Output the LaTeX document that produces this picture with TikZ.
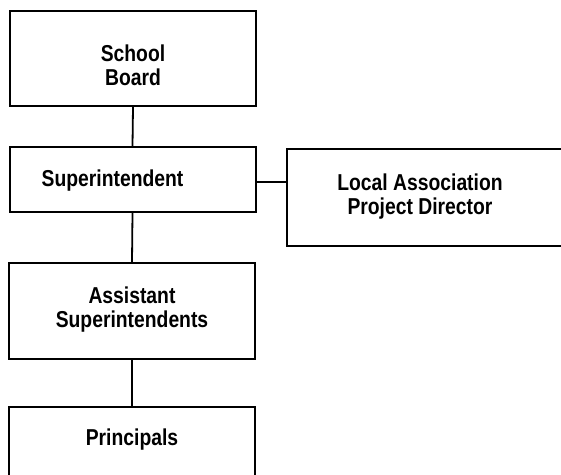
\documentclass[tikz,border=0pt]{standalone}
\usepackage{fontspec}
\setmainfont{Liberation Sans}[BoldFeatures={FakeStretch=0.84}]
\begin{document}
\begin{tikzpicture}[x=1pt,y=1pt,
  orgbox/.style={draw=black, line width=2pt, rectangle, inner sep=0pt,
    minimum width=246pt},
  label text/.style={align=center, inner sep=0pt,
    font=\fontsize{23}{24}\selectfont\bfseries},
  link/.style={draw=black, line width=1.8pt}]
  \useasboundingbox (0,0) rectangle (561,-474);
  \begin{scope}
  \clip (0,0) rectangle (561,-474);
  % chain of command
  \node[orgbox, minimum height=95pt] (board) at (133,-58.5) {};
  \node[label text] (boardtext) at (133,-65) {School\\Board};
  \node[orgbox, minimum height=65pt] (super) at (132.5,-179.5) {};
  \node[label text] (supertext) at (112.5,-181) {Superintendent};
  \node[orgbox, minimum height=96pt] (assist) at (132,-311) {};
  \node[label text] (assisttext) at (132,-310) {Assistant\\Superintendents};
  \node[orgbox, minimum height=90pt] (princ) at (132,-452) {};
  \node[label text] (princtext) at (132,-440) {Principals};
  % side box running off the right edge
  \node[orgbox, minimum width=290pt, minimum height=97pt] (localbox) at (432,-197.5) {};
  \node[label text] (localtext) at (420,-197) {Local Association\\Project Director};
  \end{scope}
  % connectors
  \draw[link] (board.south) -- (super.north);
  \draw[link] (super.south) -- (assist.north);
  \draw[link] (assist.south) -- (princ.north);
  \draw[link] (super.east |- 0,-182) -- (localbox.west |- 0,-182);
\end{tikzpicture}
\end{document}
